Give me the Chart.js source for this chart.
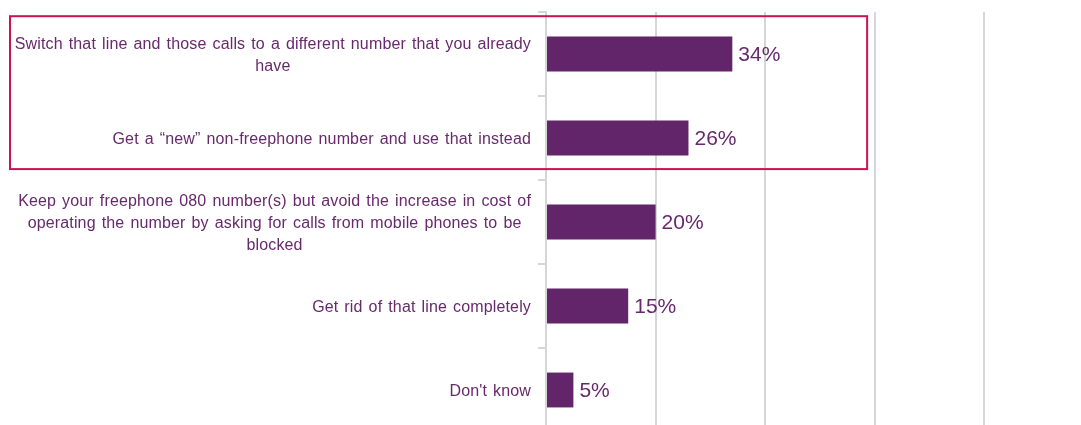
<!DOCTYPE html>
<html>
<head>
<meta charset="utf-8">
<script src="https://cdn.jsdelivr.net/npm/chart.js@4.4.1/dist/chart.umd.min.js"></script>
<style>
  html, body { margin: 0; padding: 0; background: #fff; overflow: hidden; }
  #wrap { width: 1100px; height: 445px; }
</style>
</head>
<body>
<div id="wrap"><canvas id="chart" width="1100" height="445"></canvas></div>
<script>
// categories (already wrapped as in the picture)
const categories = [
  ["Switch that line and those calls to a different number that you already", "have"],
  ["Get a \u201cnew\u201d non-freephone number and use that instead"],
  ["Keep your freephone 080 number(s) but avoid the increase in cost of", "operating the number by asking for calls from mobile phones to be", "blocked"],
  ["Get rid of that line completely"],
  ["Don't know"]
];
const values = [34, 26, 20, 15, 5];
const xTicks = [0, 20, 40, 60, 80, 100];
// highlighted group: first two answers
const highlight = { from: 0, to: 1 };

const barColor = "#62256a";
const textColor = "#67296b";
const gridColor = "#d6d6d6";
const boxColor = "#d0114f";

const labelPlugin = {
  id: "labels",
  afterDraw(chart) {
    const ctx = chart.ctx;
    const y = chart.scales.y;
    const x = chart.scales.x;
    const area = chart.chartArea;

    // category labels: block right aligned, lines centred inside it
    ctx.save();
    ctx.fillStyle = textColor;
    ctx.font = "16px 'Liberation Sans', Arial, sans-serif";
    ctx.wordSpacing = "1.4px";
    ctx.letterSpacing = "0.15px";
    ctx.textAlign = "center";
    ctx.textBaseline = "middle";
    const lineH = 22;
    categories.forEach((lines, i) => {
      const yc = y.getPixelForTick(i) + 1.5;
      const maxW = Math.max(...lines.map(l => ctx.measureText(l).width));
      const cx = area.left - 15 - maxW / 2;
      lines.forEach((l, j) => {
        ctx.fillText(l, cx, yc + (j - (lines.length - 1) / 2) * lineH);
      });
    });

    // value labels
    ctx.wordSpacing = "0px";
    ctx.letterSpacing = "0px";
    ctx.font = "21px 'Liberation Sans', Arial, sans-serif";
    ctx.textAlign = "left";
    const meta = chart.getDatasetMeta(0);
    meta.data.forEach((bar, i) => {
      ctx.fillText(values[i] + "%", bar.x + 6, bar.y + 1.5);
    });

    // highlight box round the first two answers
    const top = y.getPixelForValue(highlight.from - 0.45);
    const bottom = y.getPixelForValue(highlight.to + 0.37);
    const right = x.getPixelForValue(58.6);
    ctx.strokeStyle = boxColor;
    ctx.lineWidth = 2;
    ctx.strokeRect(10, top, right - 10, bottom - top);
    ctx.restore();
  }
};

new Chart(document.getElementById("chart"), {
  type: "bar",
  data: {
    labels: categories,
    datasets: [
      {
        data: values,
        backgroundColor: barColor,
        borderWidth: 0,
        categoryPercentage: 1,
        barPercentage: 0.415,
      },
    ],
  },
  options: {
    indexAxis: "y",
    responsive: false,
    animation: false,
    layout: { padding: { top: 12, right: 6, bottom: 13, left: 0 } },
    plugins: {
      legend: { display: false },
      tooltip: { enabled: false },
    },
    scales: {
      x: {
        min: 0,
        max: 100,
        afterBuildTicks: (s) => { s.ticks = xTicks.map(v => ({ value: v })); },
        grid: { color: gridColor, lineWidth: 2, drawTicks: false },
        border: { display: false },
        ticks: { display: false },
      },
      y: {
        afterFit: (s) => { s.width = 546; },
        grid: {
          offset: true,
          drawOnChartArea: false,
          tickLength: 8,
          color: gridColor,
          lineWidth: 2,
        },
        border: { color: gridColor, width: 2 },
        ticks: { display: false },
      },
    },
  },
  plugins: [labelPlugin],
});
</script>
</body>
</html>
